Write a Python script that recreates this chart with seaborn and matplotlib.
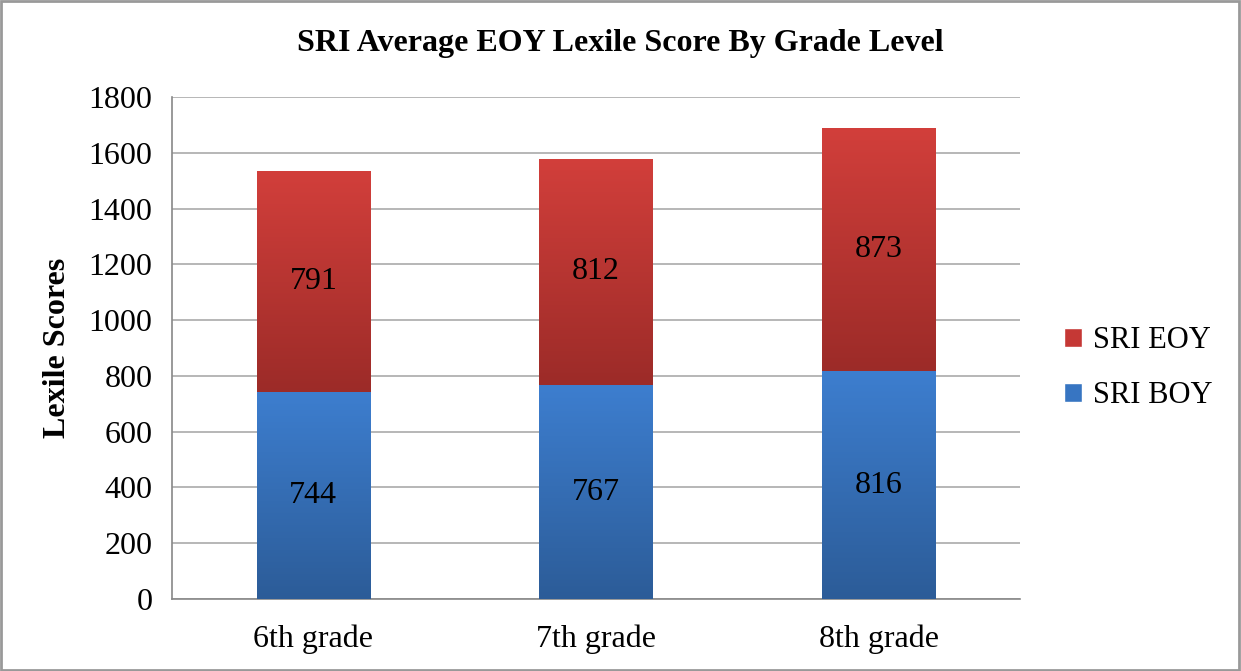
import numpy as np
import pandas as pd
import matplotlib
matplotlib.use("Agg")
import matplotlib.pyplot as plt
import seaborn as sns
from matplotlib.colors import LinearSegmentedColormap
from matplotlib.patches import Rectangle, Patch

grades = ["6th grade", "7th grade", "8th grade"]
boy = [744, 767, 816]
eoy = [791, 812, 873]
series = ["SRI EOY", "SRI BOY"]
yticks = [0, 200, 400, 600, 800, 1000, 1200, 1400, 1600, 1800]

sns.set_theme(style="white")
plt.rcParams['font.family'] = ['Liberation Serif', 'DejaVu Serif']
plt.rcParams['text.color'] = 'black'
plt.rcParams['xtick.color'] = 'black'
plt.rcParams['ytick.color'] = 'black'
plt.rcParams['axes.labelcolor'] = 'black'

FS = 23

fig = plt.figure(figsize=(12.41, 6.71), dpi=100)
ax = fig.add_axes([172/1241, 1-599/671, (1020-172)/1241, (599-97)/671])

df = pd.DataFrame({"grade": grades, "boy": boy, "total": [b + e for b, e in zip(boy, eoy)]})
sns.barplot(data=df, x="grade", y="total", color="#C0392B", width=0.40, ax=ax, zorder=2)
sns.barplot(data=df, x="grade", y="boy", color="#3A78C6", width=0.40, ax=ax, zorder=3)

red_cmap = LinearSegmentedColormap.from_list("r", ["#9C2B28", "#D23F3B"])
blue_cmap = LinearSegmentedColormap.from_list("b", ["#2C5C98", "#3D7ECF"])
grad = np.linspace(0, 1, 256).reshape(-1, 1)
n = len(grades)
for i, p in enumerate(ax.patches):
    x0, w = p.get_x(), p.get_width()
    if i < n:
        lo, top, cmap, zo = boy[i], boy[i] + eoy[i], red_cmap, 2.5
    else:
        lo, top, cmap, zo = 0, boy[i - n], blue_cmap, 3.5
    im = ax.imshow(grad, cmap=cmap, aspect="auto", origin="lower",
                   extent=[x0, x0 + w, lo, top], zorder=zo)
    clip = Rectangle((x0, lo), w, top - lo, transform=ax.transData)
    im.set_clip_path(clip)
    p.set_visible(False)

for i in range(n):
    ax.text(i, boy[i] / 2, str(boy[i]), ha="center", va="center", fontsize=FS, color="black", zorder=5)
    ax.text(i, boy[i] + eoy[i] / 2, str(eoy[i]), ha="center", va="center", fontsize=FS, color="black", zorder=5)

ax.set_xlim(-0.5, 2.5)
ax.set_ylim(0, 1800)
ax.set_yticks(yticks)
ax.set_yticklabels([str(t) for t in yticks], fontsize=FS)
ax.set_xticks(range(n))
ax.set_xticklabels(grades, fontsize=FS)
ax.set_xticks([-0.5, 0.5, 1.5, 2.5], minor=True)
ax.tick_params(axis="x", which="major", length=0, pad=18)
ax.tick_params(axis="x", which="minor", length=8, color="#888888", width=1, direction="out")
ax.tick_params(axis="y", which="major", length=8, color="#888888", width=1, direction="out", pad=6)
ax.yaxis.grid(True, color="#AAAAAA", linewidth=1.2, zorder=0)
ax.set_axisbelow(True)
for s in ["top", "right"]:
    ax.spines[s].set_visible(False)
for s in ["left", "bottom"]:
    ax.spines[s].set_color("#888888")
    ax.spines[s].set_linewidth(1.2)
ax.set_xlabel("")
ax.set_ylabel("Lexile Scores", fontsize=FS, fontweight="bold", labelpad=12)

fig.text(620/1241, 1-43/671, "SRI Average EOY Lexile Score By Grade Level",
         ha="center", va="center", fontsize=23, fontweight="bold")

handles = [Patch(facecolor="#C53835", label=series[0]), Patch(facecolor="#3775C2", label=series[1])]
leg = fig.legend(handles=handles, loc="center left", bbox_to_anchor=(1036/1241, 1-368/671),
                 frameon=False, fontsize=22, handlelength=0.6, handleheight=0.6,
                 handletextpad=0.35, labelspacing=0.85)

fig.patches.append(Rectangle((0.001, 0.001), 0.997, 0.997, transform=fig.transFigure,
                             fill=False, edgecolor="#999999", linewidth=2))

fig.savefig("out.png", dpi=100, facecolor="white")
